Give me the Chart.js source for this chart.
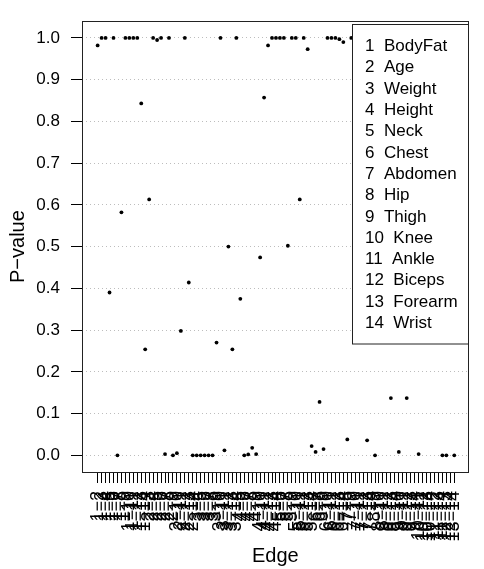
<!DOCTYPE html>
<html>
<head>
<meta charset="utf-8">
<script src="https://cdn.jsdelivr.net/npm/chart.js@4/dist/chart.umd.min.js"></script>
<style>
  html, body { margin: 0; padding: 0; background: #ffffff; }
  #wrap { width: 484px; height: 569px; }
</style>
</head>
<body>
<div id="wrap"><canvas id="chart" width="484" height="569"></canvas></div>
<script>
// Edge names (node pairs) shown under the x axis
const edgeLabels = [
  "1−2","1−3","1−4","1−5","1−6","1−7","1−8","1−9","1−10","1−11","1−12","1−13","1−14",
  "2−3","2−4","2−5","2−6","2−7","2−8","2−9","2−10","2−11","2−12","2−13","2−14",
  "3−4","3−5","3−6","3−7","3−8","3−9","3−10","3−11","3−12","3−13","3−14",
  "4−5","4−6","4−7","4−8","4−9","4−10","4−11","4−12","4−13","4−14",
  "5−6","5−7","5−8","5−9","5−10","5−11","5−12","5−13","5−14",
  "6−7","6−8","6−9","6−10","6−11","6−12","6−13","6−14",
  "7−8","7−9","7−10","7−11","7−12","7−13","7−14",
  "8−9","8−10","8−11","8−12","8−13","8−14",
  "9−10","9−11","9−12","9−13","9−14",
  "10−11","10−12","10−13","10−14",
  "11−12","11−13","11−14",
  "12−13","12−14",
  "13−14"
];

// P-value for each edge, same order as edgeLabels
const pValues = [
  0.982, 1.000, 1.000, 0.390, 1.000, 0.000, 0.582, 1.000, 1.000, 1.000, 1.000, 0.843, 0.254,
  0.613, 1.000, 0.995, 1.000, 0.003, 1.000, 0.000, 0.005, 0.298, 1.000, 0.414, 0.000,
  0.000, 0.000, 0.000, 0.000, 0.000, 0.270, 1.000, 0.012, 0.500, 0.254, 1.000,
  0.375, 0.000, 0.002, 0.018, 0.003, 0.474, 0.857, 0.982, 1.000, 1.000,
  1.000, 1.000, 0.502, 1.000, 1.000, 0.613, 1.000, 0.973, 0.022,
  0.008, 0.128, 0.015, 1.000, 1.000, 1.000, 0.997, 0.990,
  0.038, 1.000, 1.000, 0.740, 0.930, 0.036, 1.000,
  0.000, 1.000, 1.000, 1.000, 0.137, 1.000,
  0.008, 1.000, 0.137, 1.000, 0.560,
  0.003, 1.000, 1.000, 1.000,
  1.000, 0.860, 0.000,
  0.000, 1.000,
  0.000
];

// Node (variable) names listed in the key
const nodeNames = [
  "BodyFat", "Age", "Weight", "Height", "Neck", "Chest", "Abdomen",
  "Hip", "Thigh", "Knee", "Ankle", "Biceps", "Forearm", "Wrist"
];

// Y axis tick values
const yTicks = [0.0, 0.1, 0.2, 0.3, 0.4, 0.5, 0.6, 0.7, 0.8, 0.9, 1.0];

const FONT = "'Liberation Sans', Arial, Helvetica, sans-serif";

const points = pValues.map((v, i) => ({ x: i + 1, y: v }));

// Plot frame and the numbered key box drawn over the points
const framePlugin = {
  id: 'frameAndKey',
  afterDatasetsDraw(chart) {
    const { ctx, chartArea: a } = chart;
    ctx.save();
    // key box
    const kx = 352.5, ky = 24.5, kw = 116, kh = 319.5;
    ctx.fillStyle = '#ffffff';
    ctx.fillRect(kx, ky, kw, kh);
    ctx.strokeStyle = '#222';
    ctx.lineWidth = 1;
    ctx.setLineDash([]);
    ctx.strokeRect(kx, ky, kw, kh);
    ctx.fillStyle = '#000';
    ctx.font = '17px ' + FONT;
    ctx.textAlign = 'left';
    ctx.textBaseline = 'middle';
    nodeNames.forEach((name, k) => {
      ctx.fillText((k + 1) + '  ' + name, 365, 46.5 + 21.3 * k);
    });
    // plot frame
    ctx.strokeStyle = '#222';
    ctx.strokeRect(Math.round(a.left) + 0.5, Math.round(a.top) + 0.5,
                   Math.round(a.right - a.left) - 1, Math.round(a.bottom - a.top));
    ctx.restore();
  }
};

new Chart(document.getElementById('chart'), {
  type: 'scatter',
  data: {
    datasets: [{
      data: points,
      pointRadius: 1.9,
      pointHoverRadius: 1.9,
      pointBackgroundColor: '#000',
      pointBorderWidth: 0,
      showLine: false
    }]
  },
  options: {
    responsive: false,
    devicePixelRatio: 1,
    animation: false,
    events: [],
    layout: { padding: { top: 7, right: 3, left: 0, bottom: 0 } },
    plugins: { legend: { display: false }, tooltip: { enabled: false } },
    scales: {
      x: {
        type: 'linear',
        min: -2.95,
        max: 94.65,
        afterFit(scale) { scale.height = 97; },
        afterBuildTicks(scale) { scale.ticks = edgeLabels.map((_, i) => ({ value: i + 1 })); },
        border: { display: false },
        grid: { drawOnChartArea: false, drawTicks: true, tickLength: 11, tickColor: '#000', tickWidth: 1 },
        ticks: {
          autoSkip: false,
          minRotation: 90,
          maxRotation: 90,
          padding: 8,
          color: '#000',
          font: { family: FONT, size: 18 },
          callback: (value, index) => edgeLabels[index]
        },
        title: {
          display: true,
          text: 'Edge',
          color: '#000',
          font: { family: FONT, size: 20 },
          padding: { top: 0, bottom: 1 }
        }
      },
      y: {
        type: 'linear',
        min: -0.04,
        max: 1.04,
        afterFit(scale) { scale.width = 82; },
        afterBuildTicks(scale) { scale.ticks = yTicks.map(v => ({ value: v })); },
        border: { display: false, dash: [1, 3] },
        grid: {
          color: '#bdbdbd',
          lineWidth: 1,
          drawTicks: true,
          tickLength: 11,
          tickColor: '#000',
          tickBorderDash: []
        },
        ticks: {
          padding: 11,
          color: '#000',
          font: { family: FONT, size: 17 },
          callback: (value) => Number(value).toFixed(1)
        },
        title: {
          display: true,
          text: 'P−value',
          color: '#000',
          font: { family: FONT, size: 20 },
          padding: { top: 6, bottom: 0 }
        }
      }
    }
  },
  plugins: [framePlugin]
});
</script>
</body>
</html>
